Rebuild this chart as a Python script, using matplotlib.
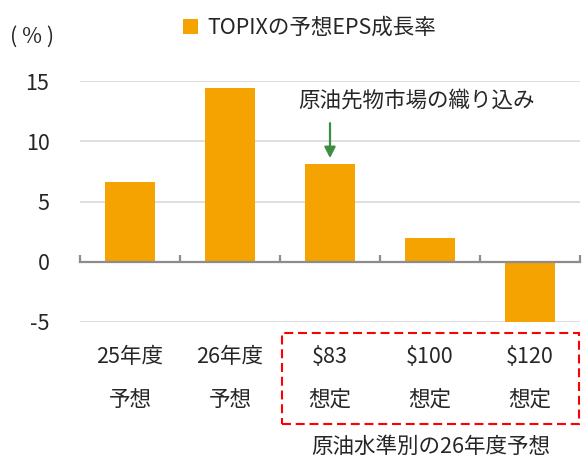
import matplotlib
matplotlib.use("Agg")
import matplotlib.pyplot as plt
import matplotlib.transforms as mtransforms
from matplotlib.patches import Rectangle

plt.rcParams['font.family'] = ['Noto Sans CJK JP', 'DejaVu Sans']

# data
line1 = ["25年度", "26年度", "$83", "$100", "$120"]
line2 = ["予想", "予想", "想定", "想定", "想定"]
eps_growth = [6.6, 14.4, 8.1, 2.0, -5.0]
yticks = [-5, 0, 5, 10, 15]

BAR = "#F4A300"
TXT = "#262626"
W, H = 584, 458
FS = 15.5

fig = plt.figure(figsize=(W / 100, H / 100), dpi=100)
ax = fig.add_axes([80 / W, 1 - 322 / H, 500 / W, 241 / H])

pos = list(range(len(eps_growth)))
ax.bar(pos, eps_growth, width=0.5, color=BAR, label="TOPIXの予想EPS成長率", zorder=2)

ax.set_xlim(-0.5, len(pos) - 0.5)
ax.set_ylim(-5, 15)
ax.set_yticks(yticks)
ax.set_yticklabels([str(v) for v in yticks], fontsize=FS, color=TXT)
ax.tick_params(axis="y", length=0, pad=22)
ax.yaxis.grid(True, color="#D9D9D9", linewidth=1.2)
ax.set_axisbelow(True)

for s in ["top", "right", "left"]:
    ax.spines[s].set_visible(False)
ax.spines["bottom"].set_position(("data", 0))
ax.spines["bottom"].set_color("#8C8C8C")
ax.spines["bottom"].set_linewidth(1.6)
ax.spines["bottom"].set_zorder(3)
ax.set_xticks([p - 0.5 for p in pos] + [pos[-1] + 0.5])
ax.set_xticklabels([])
ax.tick_params(axis="x", direction="in", length=5, width=1.6, color="#8C8C8C")

# category labels (two lines below the plot)
trans = mtransforms.blended_transform_factory(ax.transData, fig.transFigure)
for p, a, b in zip(pos, line1, line2):
    ax.text(p, 1 - 357 / H, a, transform=trans, ha="center", va="center",
            fontsize=FS, color=TXT)
    ax.text(p, 1 - 400 / H, b, transform=trans, ha="center", va="center",
            fontsize=FS, color=TXT)

# arrow annotation
ax.annotate("", xy=(2, 8.6), xytext=(2, 11.5),
            arrowprops=dict(arrowstyle="-|>,head_length=0.65,head_width=0.33",
                            color="#3E8E41", lw=1.6, shrinkA=0, shrinkB=0))
ax.text(1.68, 13.35, "原油先物市場の織り込み", ha="left", va="center",
        fontsize=FS, color=TXT)

# red dashed box around the oil scenarios
fig.add_artist(Rectangle((282 / W, 1 - 424 / H), 297 / W, 91 / H,
                         transform=fig.transFigure, fill=False,
                         edgecolor="#FF0000", linewidth=1.5,
                         linestyle=(0, (4.3, 2.3))))
fig.text(431 / W, 1 - 447 / H, "原油水準別の26年度予想", ha="center", va="center",
         fontsize=FS, color=TXT)

fig.text(32 / W, 1 - 37 / H, "( % )", ha="center", va="center", fontsize=FS, color=TXT)

ax.legend(loc="center left", bbox_to_anchor=(164 / W, 1 - 28 / H),
          bbox_transform=fig.transFigure, frameon=False, fontsize=FS,
          handlelength=0.7, handleheight=0.7, handletextpad=0.4,
          labelcolor=TXT)

fig.savefig("out.png", dpi=100)
